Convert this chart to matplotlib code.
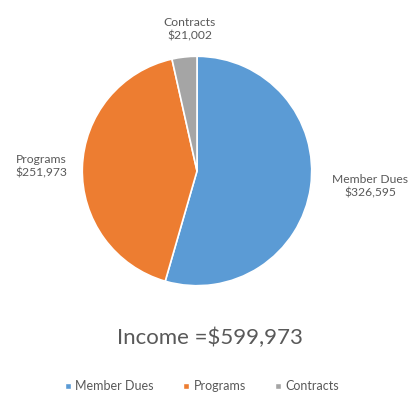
import matplotlib.pyplot as plt
from matplotlib.lines import Line2D

categories = ["Member Dues", "Programs", "Contracts"]
amounts = [326595, 251973, 21002]
total_label = "Income =$599,973"
colors = ["#5B9BD5", "#ED7D31", "#A5A5A5"]

plt.rcParams['font.family'] = ['Lato', 'DejaVu Sans']
text_color = "#595959"

fig = plt.figure(figsize=(4.12, 3.96), dpi=100)
# pie area: centre ~ (197, 171) px, radius ~117 px
cx, cy, r = 197, 171, 117
ax = fig.add_axes([(cx - r) / 412, (396 - cy - r) / 396, 2 * r / 412, 2 * r / 396])

wedges, _ = ax.pie(amounts, colors=colors, startangle=90, counterclock=False,
                   radius=1.0, wedgeprops=dict(edgecolor="white", linewidth=1.2))
ax.set_xlim(-1.02, 1.02)
ax.set_ylim(-1.02, 1.02)
ax.set_aspect("equal")
ax.axis("off")

# slice labels placed outside the pie
label_pos = {"Member Dues": (370, 186), "Programs": (41, 166), "Contracts": (190, 29)}
for name, val in zip(categories, amounts):
    x, y = label_pos[name]
    fig.text(x / 412, 1 - y / 396, "%s\n$%s" % (name, format(val, ",")),
             ha="center", va="center", fontsize=8.7, color=text_color,
             linespacing=1.3)

fig.text(210 / 412, 1 - 338 / 396, total_label, ha="center", va="center",
         fontsize=16, color=text_color)

handles = [Line2D([0], [0], marker="s", color="w", markerfacecolor=c,
                  markersize=4.5) for c in colors]
fig.legend(handles, categories, loc="center", bbox_to_anchor=(201 / 412, 1 - 386 / 396),
           ncol=3, frameon=False, fontsize=9, labelcolor=text_color,
           handletextpad=0.2, columnspacing=2.2, handlelength=0.8)

fig.savefig("out.png", dpi=100, facecolor="white")
